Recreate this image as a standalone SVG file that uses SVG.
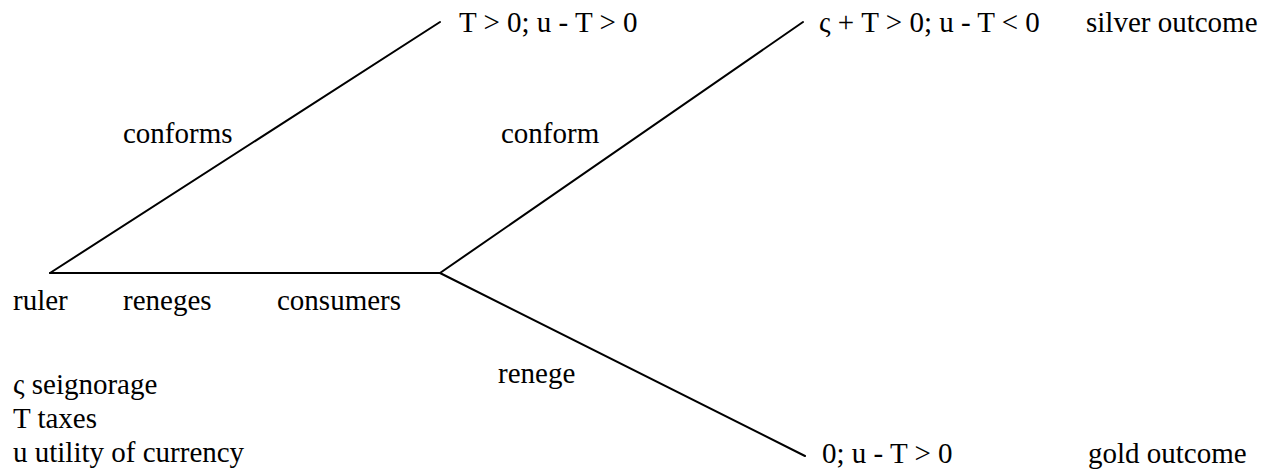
<svg xmlns="http://www.w3.org/2000/svg" width="1277" height="470" viewBox="0 0 1277 470">
<style>
.e{stroke:#000;stroke-width:2;fill:none;stroke-linecap:round}
</style>
<rect width="1277" height="470" fill="#fff"/>
<g id="connectors">
<line class="e" x1="50" y1="273" x2="440" y2="22"/>
<line class="e" x1="50" y1="273" x2="440" y2="273"/>
<line class="e" x1="440" y1="273" x2="803" y2="22"/>
<line class="e" x1="440" y1="273" x2="805" y2="456"/>
</g>
<g font-family="'Liberation Serif', 'Times New Roman', 'DejaVu Serif', serif" font-size="29" fill="#000">
<g id="edge-labels">
<text x="123" y="143">conforms</text>
<text x="501" y="143">conform</text>
<text x="123" y="310">reneges</text>
<text x="498" y="383">renege</text>
</g>
<g id="node-ruler"><text x="13" y="310">ruler</text></g>
<g id="node-consumers"><text x="277" y="310">consumers</text></g>
<g id="node-outcome1"><text x="459" y="32">T &gt; 0; u - T &gt; 0</text></g>
<g id="node-silver"><text x="819" y="32">ς + T &gt; 0; u - T &lt; 0</text><text x="1086" y="32">silver outcome</text></g>
<g id="node-gold"><text x="822" y="463">0; u - T &gt; 0</text><text x="1088" y="463">gold outcome</text></g>
<g id="legend">
<text x="13" y="394">ς seignorage</text>
<text x="13" y="428">T taxes</text>
<text x="13" y="462">u utility of currency</text>
</g>
</g>
</svg>
